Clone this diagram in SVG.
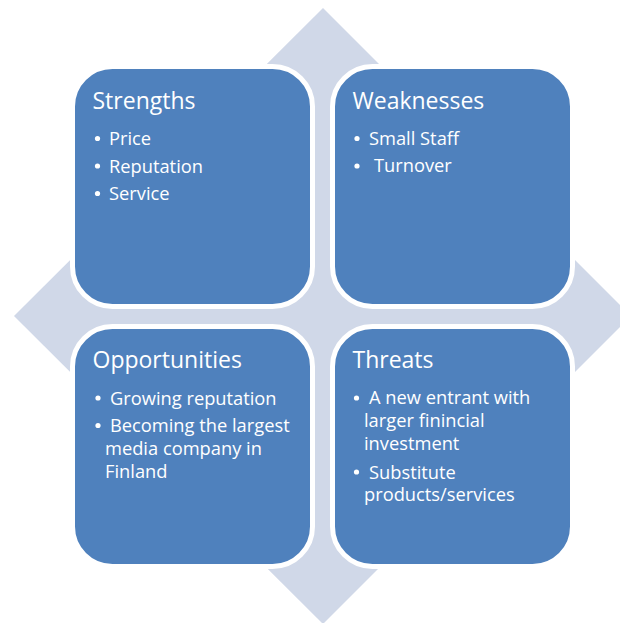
<svg xmlns="http://www.w3.org/2000/svg" width="620" height="623" viewBox="0 0 620 623">
  <style>
    .bg { fill: #D0D8E8; }
    .box { fill: #4F81BD; stroke: #FFFFFF; stroke-width: 5; }
    .title { font-family: "Open Sans", "Liberation Sans", sans-serif; font-size: 23px; fill: #FFFFFF; }
    .item { font-family: "Open Sans", "Liberation Sans", sans-serif; font-size: 18.3px; fill: #FFFFFF; }
    .dot { fill: #FFFFFF; }
  </style>

  <!-- background four-way diamond -->
  <polygon class="bg" points="323,8 631,316 323,624 14,316"/>

  <g id="connectors"></g>

  <g id="strengths">
    <rect class="box" x="72.5" y="66.5" width="240" height="240" rx="40"/>
    <text class="title" x="92.5" y="109">Strengths</text>
    <circle class="dot" cx="97.5" cy="138.5" r="2.6"/>
    <text class="item" x="109" y="145">Price</text>
    <circle class="dot" cx="97.5" cy="166" r="2.6"/>
    <text class="item" x="109" y="172.5">Reputation</text>
    <circle class="dot" cx="97.5" cy="193.5" r="2.6"/>
    <text class="item" x="109" y="200">Service</text>
  </g>

  <g id="weaknesses">
    <rect class="box" x="332.5" y="66.5" width="240" height="240" rx="40"/>
    <text class="title" x="352.5" y="109">Weaknesses</text>
    <circle class="dot" cx="357" cy="138.5" r="2.6"/>
    <text class="item" x="369" y="145">Small Staff</text>
    <circle class="dot" cx="357" cy="166" r="2.6"/>
    <text class="item" x="374" y="172">Turnover</text>
  </g>

  <g id="opportunities">
    <rect class="box" x="72.5" y="326.5" width="240" height="240" rx="40"/>
    <text class="title" x="92.5" y="368">Opportunities</text>
    <circle class="dot" cx="98" cy="398" r="2.6"/>
    <text class="item" x="110" y="404.5">Growing reputation</text>
    <circle class="dot" cx="98" cy="425.5" r="2.6"/>
    <text class="item" x="110" y="431.5">Becoming the largest</text>
    <text class="item" x="105" y="454.5">media company in</text>
    <text class="item" x="105" y="477.5">Finland</text>
  </g>

  <g id="threats">
    <rect class="box" x="332.5" y="326.5" width="240" height="240" rx="40"/>
    <text class="title" x="352.5" y="367.5">Threats</text>
    <circle class="dot" cx="356.5" cy="398" r="2.6"/>
    <text class="item" x="369" y="404">A new entrant with</text>
    <text class="item" x="364" y="427">larger finincial</text>
    <text class="item" x="364" y="449.5">investment</text>
    <circle class="dot" cx="356.5" cy="472" r="2.6"/>
    <text class="item" x="369" y="478.5">Substitute</text>
    <text class="item" x="364" y="501">products/services</text>
  </g>
</svg>
